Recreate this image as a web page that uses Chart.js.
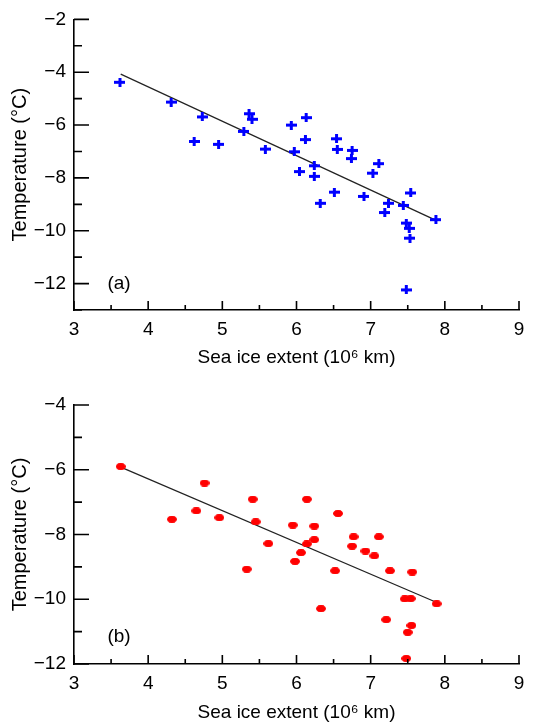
<!DOCTYPE html>
<html>
<head>
<meta charset="utf-8">
<script src="https://cdn.jsdelivr.net/npm/chart.js@4.4.1/dist/chart.umd.min.js"></script>
<style>
  html, body { margin: 0; padding: 0; background: #fff; }
  #wrap { position: relative; width: 537px; height: 724px; }
  .panel { position: absolute; left: 0; width: 537px; }
</style>
</head>
<body>
<div id="wrap">
  <div class="panel" style="top:0;height:372px"><canvas id="chartA"></canvas></div>
  <div class="panel" style="top:372px;height:352px"><canvas id="chartB"></canvas></div>
</div>
<script>
// (a) sea ice extent vs temperature, blue crosses
const iceA = [3.62, 4.31, 4.73, 4.62, 4.95, 5.36, 5.40, 5.29, 5.58, 5.93, 5.97, 6.13, 6.12, 6.24, 6.04, 6.24, 6.32,
  6.51, 6.54, 6.55, 6.75, 6.74, 7.11, 7.03, 6.91, 7.24, 7.19, 7.44, 7.54, 7.48, 7.52, 7.53, 7.48, 7.88];
const tempA = [-4.38, -5.13, -5.69, -6.62, -6.73, -5.57, -5.78, -6.24, -6.91, -6.00, -7.01, -5.72, -6.55, -7.54, -7.76, -7.94, -8.96,
  -8.54, -6.52, -6.92, -6.96, -7.27, -7.46, -7.82, -8.70, -8.96, -9.31, -9.04, -8.57, -9.71, -9.91, -10.28, -12.24, -9.58];
const fitIceA = [3.63, 7.86];
const fitTempA = [-4.07, -9.58];

// (b) red dots
const iceB = [3.63, 4.32, 4.65, 4.76, 4.96, 5.41, 5.45, 5.62, 5.33, 5.95, 5.98, 6.14, 6.56, 6.24, 6.24, 6.14, 6.06,
  6.77, 6.75, 6.93, 7.05, 7.11, 6.52, 7.26, 7.56, 6.33, 7.46, 7.54, 7.89, 7.21, 7.55, 7.50, 7.48];
const tempB = [-5.90, -7.53, -7.27, -6.41, -7.48, -6.91, -7.61, -8.28, -9.07, -7.71, -8.83, -6.91, -7.35, -7.74, -8.16, -8.29, -8.56,
  -8.07, -8.36, -8.51, -8.66, -8.07, -9.12, -9.12, -9.16, -10.29, -9.99, -9.98, -10.14, -10.63, -10.81, -11.02, -11.83];
const fitIceB = [3.63, 7.86];
const fitTempB = [-5.92, -10.07];

const xLabel = 'Sea ice extent (10\u2076 km)';
const yLabel = 'Temperature (\u00b0C)';
const FONT = '"Liberation Sans", Arial, sans-serif';

function plusMarker(color) {
  const c = document.createElement('canvas');
  c.width = 11; c.height = 9;
  const g = c.getContext('2d');
  g.fillStyle = color;
  g.fillRect(0, 3, 11, 3);
  g.fillRect(4, 0, 3, 9);
  return c;
}

function blobMarker(color) {
  const c = document.createElement('canvas');
  c.width = 10; c.height = 7;
  const g = c.getContext('2d');
  g.fillStyle = color;
  g.beginPath();
  g.ellipse(5, 3.5, 5, 3.5, 0, 0, Math.PI * 2);
  g.fill();
  g.fillRect(2, 0.5, 6, 6);
  return c;
}

const toPts = (xs, ys) => xs.map((x, i) => ({ x: x, y: ys[i] }));

// ticks point inward, labelled majors longer than minors
const innerTicks = {
  id: 'innerTicks',
  afterDraw(chart, args, opts) {
    const { ctx, chartArea: a, scales: { x, y } } = chart;
    ctx.save();
    ctx.strokeStyle = '#000';
    ctx.lineWidth = 1.6;
    ctx.beginPath();
    x.ticks.forEach(t => {
      const px = x.getPixelForValue(t.value);
      const len = Number.isInteger(t.value) ? 9 : 5;
      ctx.moveTo(px, a.bottom);
      ctx.lineTo(px, a.bottom - len);
    });
    y.ticks.forEach(t => {
      const py = y.getPixelForValue(t.value);
      const len = t.value % 2 === 0 ? 15 : 8;
      ctx.moveTo(a.left, py);
      ctx.lineTo(a.left + len, py);
    });
    ctx.stroke();
    ctx.fillStyle = '#000';
    ctx.font = '19px ' + FONT;
    ctx.textBaseline = 'middle';
    ctx.fillText(opts.tag, x.getPixelForValue(opts.tagX), y.getPixelForValue(opts.tagY));
    ctx.restore();
  }
};

function makeChart(id, pts, fit, marker, yMin, yMax, pad, xHeight, titlePad, tag, tagY) {
  return new Chart(document.getElementById(id), {
    type: 'scatter',
    data: {
      datasets: [
        {
          data: pts,
          pointStyle: marker,
          pointRadius: 5,
          pointHoverRadius: 5,
        },
        {
          type: 'line',
          data: fit,
          borderColor: '#222',
          borderWidth: 1.2,
          pointRadius: 0,
          fill: false,
        },
      ],
    },
    options: {
      responsive: true,
      maintainAspectRatio: false,
      animation: false,
      layout: { padding: { top: pad, right: 18, left: 0, bottom: 0 } },
      plugins: {
        legend: { display: false },
        tooltip: { enabled: false },
        innerTicks: { tag: tag, tagX: 3.45, tagY: tagY },
      },
      scales: {
        x: {
          type: 'linear',
          min: 3,
          max: 9,
          afterFit: s => { s.height = xHeight; },
          grid: { drawOnChartArea: false, drawTicks: false },
          border: { display: true, color: '#000', width: 1.6 },
          ticks: {
            stepSize: 0.5,
            autoSkip: false,
            padding: 8,
            color: '#000',
            font: { size: 19, family: FONT },
            callback: v => Number.isInteger(v) ? String(v) : '',
          },
          title: {
            display: true,
            text: xLabel,
            color: '#000',
            font: { size: 19, family: FONT, lineHeight: 1 },
            padding: { top: 0, bottom: titlePad },
          },
        },
        y: {
          type: 'linear',
          min: yMin,
          max: yMax,
          afterFit: s => { s.width = 74; },
          grid: { drawOnChartArea: false, drawTicks: false },
          border: { display: true, color: '#000', width: 1.6 },
          ticks: {
            stepSize: 1,
            autoSkip: false,
            padding: 8,
            color: '#000',
            font: { size: 19, family: FONT },
            callback: v => v % 2 === 0 ? '\u2212' + Math.abs(v) : '',
          },
          title: {
            display: true,
            text: yLabel,
            color: '#000',
            font: { size: 20, family: FONT, lineHeight: 1 },
            padding: { top: 10, bottom: 0 },
          },
        },
      },
    },
    plugins: [innerTicks],
  });
}

makeChart('chartA', toPts(iceA, tempA), toPts(fitIceA, fitTempA), plusMarker('#0000ff'),
  -13, -2, 15, 62, 4.5, '(a)', -12);
makeChart('chartB', toPts(iceB, tempB), toPts(fitIceB, fitTempB), blobMarker('#ff0000'),
  -12, -4, 33, 60, 1.5, '(b)', -11.15);
</script>
</body>
</html>
